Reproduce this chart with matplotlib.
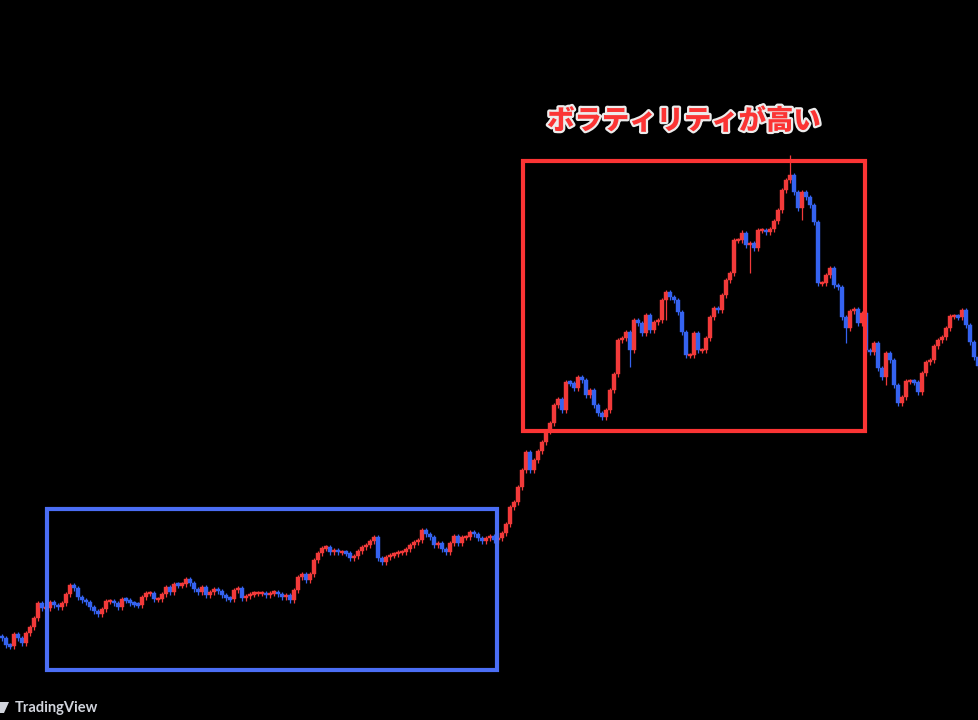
import matplotlib
matplotlib.use("Agg")
import matplotlib.pyplot as plt
import matplotlib.patheffects as pe
from matplotlib.patches import Rectangle, Polygon

# closing prices (arbitrary units), one per candle
closes = [
    82, 75, 74, 86, 82, 77, 87, 93, 102, 117, 112, 112, 118, 115, 113, 117,
    126, 135, 132, 123, 120, 118, 113, 109, 106, 111, 119, 119, 117, 113,
    121, 120, 117, 116, 115, 123, 127, 127, 121, 121, 126, 133, 128, 136,
    135, 136, 141, 137, 131, 128, 133, 125, 128, 131, 129, 125, 122, 121,
    130, 132, 122, 124, 126, 127, 127, 127, 125, 127, 128, 126, 123, 125,
    120, 130, 143, 146, 140, 146, 160, 167, 172, 173, 168, 170, 168, 168,
    167, 162, 164, 169, 173, 175, 179, 183, 162, 158, 163, 165, 166, 168,
    168, 171, 175, 178, 180, 190, 186, 183, 175, 177, 171, 168, 177, 184,
    177, 183, 183, 188, 186, 182, 179, 182, 184, 180, 182, 187, 196, 213,
    218, 233, 250, 268, 250, 260, 269, 278, 289, 297, 315, 321, 310, 338,
    337, 332, 343, 340, 325, 330, 315, 307, 303, 310, 330, 346, 380, 382,
    388, 370, 400, 397, 387, 405, 390, 398, 400, 420, 428, 423, 420, 408,
    388, 365, 365, 387, 370, 370, 382, 403, 412, 410, 425, 440, 447, 480,
    480, 487, 475, 477, 472, 490, 490, 488, 491, 499, 510, 530, 540, 545,
    528, 512, 528, 523, 515, 498, 437, 437, 445, 452, 435, 433, 403, 392,
    409, 411, 397, 407, 370, 368, 377, 352, 343, 367, 360, 335, 317, 323,
    339, 339, 338, 328, 347, 358, 360, 374, 380, 383, 392, 404, 404, 403,
    410, 395, 378, 363, 354,
]
first_open = 84
# a few visible long wicks: candle index -> price
wick_high = {197: 565, 185: 490, 139: 272, 131: 258}
wick_low = {157: 353, 200: 500, 166: 400, 187: 447, 211: 377, 221: 335}

UP = "#f23a3a"
DOWN = "#3563f0"
BG = "#000000"

fig = plt.figure(figsize=(9.79, 7.2), dpi=100, facecolor=BG)
ax = fig.add_axes([0, 0, 1, 1], facecolor=BG)

opens = [first_open] + closes[:-1]
for i, (o, c) in enumerate(zip(opens, closes)):
    col = UP if c >= o else DOWN
    top, bot = max(o, c), min(o, c)
    hi = max(top + 2.5, wick_high.get(i, top))
    lo = min(bot - 2.5, wick_low.get(i, bot))
    ax.vlines(i, lo, hi, color=col, linewidth=0.9, zorder=2)
    height = max(top - bot, 2.5)
    ax.add_patch(Rectangle((i - 0.4, bot - (height - (top - bot)) / 2), 0.8, height,
                           facecolor=col, edgecolor=col, linewidth=0.3, zorder=3))

ax.set_xlim(-0.5, 244.25)
ax.set_ylim(0, 720)
ax.axis("off")

# highlight boxes (figure pixel positions)
W, H = 979.0, 720.0
def box(x0, y0, x1, y1, color):
    fig.patches.append(Rectangle((x0 / W, 1 - y1 / H), (x1 - x0) / W, (y1 - y0) / H,
                                 transform=fig.transFigure, fill=False,
                                 edgecolor=color, linewidth=3.0, zorder=5))

box(47, 509, 497, 670, "#4b6ef5")
box(523, 161, 865, 431, "#fb3434")

fig.text(684 / W, 1 - 121 / H, "ボラティリティが高い",
         family=["Noto Sans CJK JP", "DejaVu Sans"], fontweight="heavy",
         fontsize=19.7, color="#fb3434", ha="center", va="center",
         path_effects=[pe.withStroke(linewidth=3.2, foreground="#ececec")])

# TradingView watermark
logo = [(0, 702), (9, 702), (4, 713), (-2, 713)]
fig.patches.append(Polygon([(x / W, 1 - y / H) for x, y in logo], closed=True,
                           transform=fig.transFigure, facecolor="#d1d4dc", edgecolor="none"))
fig.text(15 / W, 1 - 708 / H, "TradingView", family="Lato", fontweight="bold",
         fontsize=10.5, color="#d1d4dc", ha="left", va="center")

fig.savefig("out.png", dpi=100, facecolor=BG)
